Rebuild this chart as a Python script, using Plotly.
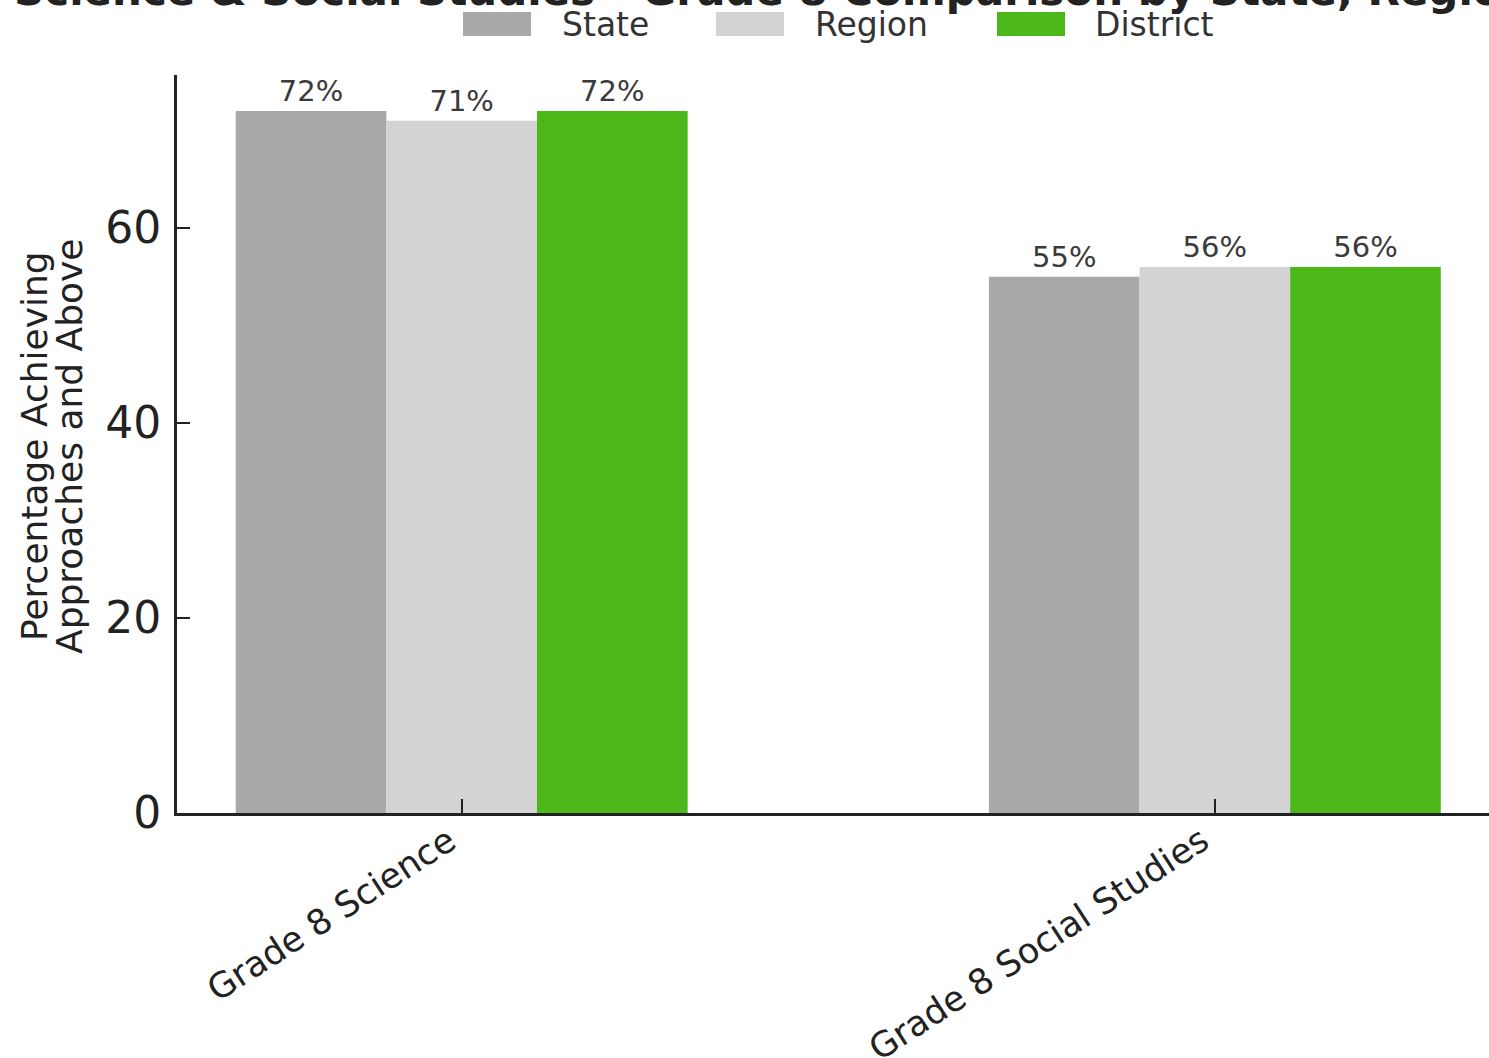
import plotly.graph_objects as go

categories = ["Grade 8 Science", "Grade 8 Social Studies"]
series_names = ["State", "Region", "District"]
state_vals = [72, 55]
region_vals = [71, 56]
district_vals = [72, 56]
colors = ["#a9a9a9", "#d3d3d3", "#4cb81a"]
title_text = "Science & Social Studies - Grade 8 Comparison by State, Region, and District"
y_title_lines = ["Percentage Achieving", "Approaches and Above"]

FONT = "DejaVu Sans"
W, H = 1489, 1058
ML, MR, MT, MB = 177, 0, 75, 245
PW, PH = W - ML - MR, H - MT - MB


def px_x(px):
    return (px - ML) / PW


def px_y(py):
    return (H - MB - py) / PH


fig = go.Figure()
for name, vals, col in zip(series_names, [state_vals, region_vals, district_vals], colors):
    fig.add_trace(go.Bar(
        x=categories, y=vals, name=name, marker=dict(color=col, line=dict(width=0)),
        texttemplate="%{y}%", textposition="outside", cliponaxis=False,
        textfont=dict(family=FONT, size=29, color="#3a3a3a"),
        showlegend=False,
    ))

# legend drawn as swatches + labels
legend_px = [(463, 560), (716, 813), (997, 1093)]
for (sx, tx), name, col in zip(legend_px, series_names, colors):
    fig.add_shape(type="rect", xref="paper", yref="paper",
                  x0=px_x(sx), x1=px_x(sx + 68), y0=px_y(36), y1=px_y(12),
                  fillcolor=col, line=dict(width=0), layer="above")
    fig.add_annotation(x=px_x(tx), y=px_y(25), xref="paper", yref="paper",
                       text=name, showarrow=False, xanchor="left", yanchor="middle",
                       font=dict(family=FONT, size=33, color="#333333"))

# title (cut off at the top of the page, as in the reference)
fig.add_annotation(x=px_x(12), y=px_y(-10), xref="paper", yref="paper",
                   text="<b>" + title_text + "</b>", showarrow=False,
                   xanchor="left", yanchor="middle",
                   font=dict(family=FONT, size=42, color="#222222"))

# y-axis title, two lines
for line, cx in zip(y_title_lines, [34, 69]):
    fig.add_annotation(x=px_x(cx), y=px_y(446), xref="paper", yref="paper",
                       text=line, showarrow=False, textangle=-90,
                       xanchor="center", yanchor="middle",
                       font=dict(family=FONT, size=36, color="#222222"))

fig.update_layout(
    width=W, height=H,
    margin=dict(l=ML, r=MR, t=MT, b=MB, pad=0, autoexpand=False),
    paper_bgcolor="white", plot_bgcolor="white",
    barmode="group", bargap=0.4, bargroupgap=0,
    font=dict(family=FONT, color="#222222"),
)
fig.update_xaxes(
    range=[-0.378, 1.364], showline=True, linecolor="#222222", linewidth=3,
    ticks="inside", ticklen=14, tickwidth=2, tickcolor="#222222",
    tickangle=-33, tickfont=dict(family=FONT, size=35, color="#222222"),
    ticklabelshift=-13, ticklabelstandoff=-9, automargin=False,
    showgrid=False, zeroline=False,
)
fig.update_yaxes(
    range=[0, 75.7], showline=True, linecolor="#222222", linewidth=3,
    ticks="inside", ticklen=13, tickwidth=2, tickcolor="#222222",
    tickvals=[0, 20, 40, 60], tickfont=dict(family=FONT, size=44, color="#222222"),
    ticklabelstandoff=4, automargin=False,
    showgrid=False, zeroline=False,
)

fig.write_html("out.html")
